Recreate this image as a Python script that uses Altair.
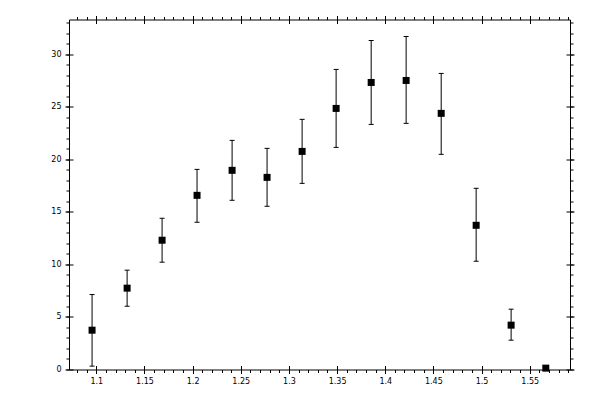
import altair as alt
import pandas as pd

# data
x_vals = [1.0956, 1.1320, 1.1683, 1.2046, 1.2410, 1.2773, 1.3137,
          1.3490, 1.3854, 1.4217, 1.4581, 1.4944, 1.5307, 1.5667]
y_vals = [3.74, 7.74, 12.30, 16.57, 18.95, 18.28, 20.75,
          24.84, 27.31, 27.50, 24.37, 13.72, 4.22, 0.13]
y_low = [0.32, 6.02, 10.21, 14.01, 16.10, 15.53, 17.71,
         21.13, 23.32, 23.42, 20.47, 10.30, 2.79, 0.0]
y_high = [7.13, 9.45, 14.39, 19.04, 21.80, 21.04, 23.80,
          28.55, 31.30, 31.68, 28.17, 17.24, 5.74, 0.3]

x_major = [1.1, 1.15, 1.2, 1.25, 1.3, 1.35, 1.4, 1.45, 1.5, 1.55]
x_minor = [round(1.08 + 0.01 * i, 2) for i in range(52)]
y_major = [0, 5, 10, 15, 20, 25, 30]
y_minor = list(range(0, 34))

df = pd.DataFrame({"x": x_vals, "y": y_vals, "lo": y_low, "hi": y_high})

xs = alt.Scale(domain=[1.07165, 1.59184], nice=False, zero=False)
ys = alt.Scale(domain=[0, 33.3], nice=False, zero=False)

FONT = "DejaVu Sans"


def ax(orient, values, size, offset=0, labels=False, fmt=None, pad=8):
    kw = dict(orient=orient, values=values, title=None, domain=False, grid=False,
              tickColor="black", tickWidth=1, offset=offset)
    if labels:
        kw.update(labels=True, ticks=False, tickSize=0, labelPadding=pad,
                  labelFont=FONT, labelFontSize=8, labelColor="black",
                  format=fmt, labelOverlap=False)
    else:
        kw.update(labels=False, ticks=True, tickSize=size)
    return alt.Axis(**kw)


base = alt.Chart(df)

rules = base.mark_rule(color="black", strokeWidth=1).encode(
    x=alt.X("x:Q", scale=xs, axis=ax("bottom", x_minor, 3)),
    y=alt.Y("lo:Q", scale=ys, axis=ax("left", y_minor, 3)),
    y2="hi:Q",
)

caps_lo = base.mark_tick(color="black", orient="horizontal", size=5,
                         thickness=1, opacity=1).encode(
    x=alt.X("x:Q", scale=xs, axis=ax("top", x_minor, 3)),
    y=alt.Y("lo:Q", scale=ys, axis=ax("right", y_minor, 3)),
)

caps_hi = base.mark_tick(color="black", orient="horizontal", size=5,
                         thickness=1, opacity=1).encode(
    x=alt.X("x:Q", scale=xs, axis=ax("top", x_major, 8, offset=-4)),
    y=alt.Y("hi:Q", scale=ys, axis=ax("right", y_major, 8, offset=-4)),
)

points = base.mark_square(color="black", size=49, filled=True, opacity=1).encode(
    x=alt.X("x:Q", scale=xs, axis=ax("bottom", x_major, 8, offset=-4)),
    y=alt.Y("y:Q", scale=ys, axis=ax("left", y_major, 8, offset=-4)),
)

labels = base.mark_point(opacity=0).encode(
    x=alt.X("x:Q", scale=xs, axis=ax("bottom", x_major, 0, labels=True, fmt="~g", pad=8)),
    y=alt.Y("y:Q", scale=ys, axis=ax("left", y_major, 0, labels=True, fmt="d", pad=8)),
)

chart = alt.layer(rules, caps_lo, caps_hi, points, labels).resolve_axis(
    x="independent", y="independent"
).properties(
    width=501, height=350,
    autosize=alt.AutoSizeParams(type="none"),
    padding={"left": 61, "top": 11.5, "right": 20, "bottom": 20},
    background="white",
).configure_view(stroke="black", strokeWidth=1)

chart.save("out.html", embed_options={"renderer": "svg", "actions": False})
